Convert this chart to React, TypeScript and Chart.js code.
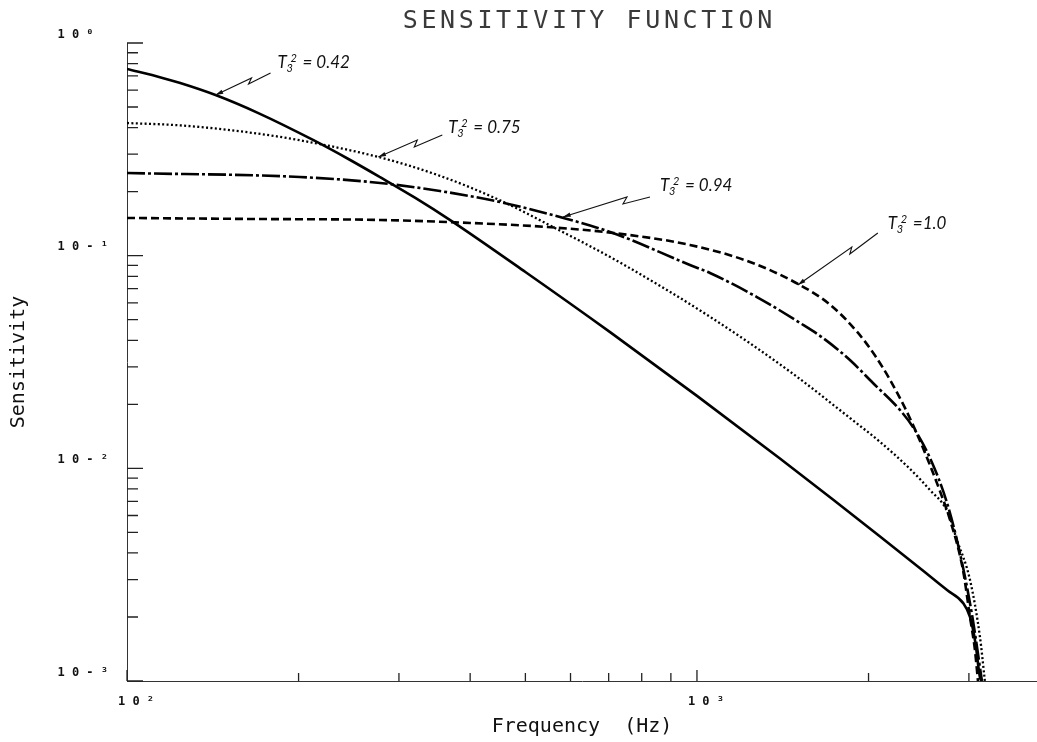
import React, { useEffect, useRef } from 'react';
import { Chart, registerables } from 'chart.js';

Chart.register(...registerables);

// ---- axis ranges ----
const FREQ_MIN = 100;
const FREQ_MAX = 3950;
const SENS_MIN = 0.001;
const SENS_MAX = 1;

// ---- tick labels (powers of ten) ----
const xTickValues = [100, 1000];
const xTickLabels = ['1 0 \u00B2', '1 0 \u00B3'];
const yTickValues = [1, 0.1, 0.01, 0.001];
const yTickLabels = ['1 0 \u2070  ', '1 0 - \u00B9', '1 0 - \u00B2', '1 0 - \u00B3'];

// ---- series: T3^2 = 0.42 (solid) ----
const freq042 = [100, 115, 124, 143, 170, 212, 245, 278, 320, 369, 500, 704, 1000, 1400, 1732, 2095, 2500, 2750, 2929, 3013, 3080, 3137, 3160];
const sens042 = [0.755, 0.687, 0.648, 0.569, 0.468, 0.35, 0.284, 0.234, 0.1875, 0.147, 0.0838, 0.0437, 0.02192, 0.01109, 0.00714, 0.00478, 0.00328, 0.00267, 0.00233, 0.002, 0.00151, 0.00104, 0.001];

// ---- series: T3^2 = 0.75 (dotted) ----
const freq075 = [100, 124, 164, 201, 276, 354, 451, 559, 733, 1054, 1456, 1855, 2095, 2364, 2563, 2746, 2858, 3013, 3137, 3200];
const sens075 = [0.4205, 0.4099, 0.3795, 0.3488, 0.2911, 0.2374, 0.1822, 0.1364, 0.0928, 0.0516, 0.02851, 0.01725, 0.01331, 0.00994, 0.00791, 0.0063, 0.00461, 0.00299, 0.00161, 0.001];

// ---- series: T3^2 = 0.94 (dash-dot) ----
const freq094 = [100, 201, 278, 354, 451, 575, 712, 972, 1054, 1274, 1516, 1664, 1855, 2036, 2270, 2393, 2563, 2746, 2893, 3038, 3162];
const sens094 = [0.2447, 0.2344, 0.2197, 0.2014, 0.1789, 0.152, 0.1279, 0.0904, 0.0829, 0.0639, 0.0483, 0.041, 0.0323, 0.0252, 0.01882, 0.01565, 0.01119, 0.00688, 0.004, 0.00205, 0.001];

// ---- series: T3^2 = 1.0 (dashed) ----
const freq100 = [100, 164, 278, 400, 546, 712, 972, 1239, 1516, 1711, 1909, 2053, 2181, 2316, 2442, 2563, 2669, 2780, 2929, 3013, 3074, 3112];
const sens100 = [0.1504, 0.1488, 0.1472, 0.1425, 0.1364, 0.1279, 0.1123, 0.0934, 0.0728, 0.0589, 0.0439, 0.0339, 0.0261, 0.01928, 0.01417, 0.01036, 0.00781, 0.00572, 0.00333, 0.002, 0.0014, 0.001];

// ---- annotations ----
const annotationTexts = ['= 0.42', '= 0.75', '= 0.94', '=1.0'];
const annotationTipFreq = [143, 276, 582, 1503];
const annotationTipSens = [0.57, 0.291, 0.152, 0.0728];

const TITLE = 'SENSITIVITY FUNCTION';
const X_TITLE = 'Frequency  (Hz)';
const Y_TITLE = 'Sensitivity';

// leader geometry (pixel offsets from the arrow tip): peak, drop, end, text anchor
const LEADER_OFFSETS = [
  [[36, -17], [33, -11], [55, -22], [62, -27]],
  [[39, -17], [36, -10], [64, -22], [70, -24]],
  [[64, -20], [60, -13], [87, -20], [97, -26]],
  [[54, -38], [52, -31], [80, -52], [90, -56]],
];

const zip = (xs: number[], ys: number[]) => xs.map((x, i) => ({ x, y: ys[i] }));

const isPow10 = (v: number) => Math.abs(Math.log10(v) - Math.round(Math.log10(v))) < 1e-9;

const decorPlugin = {
  id: 'decor',
  afterDraw(chart: any) {
    const { ctx, chartArea } = chart;
    const xs = chart.scales.x;
    const ys = chart.scales.y;
    ctx.save();

    // tick marks drawn inside the plot area
    ctx.strokeStyle = '#222';
    ctx.lineWidth = 1.3;
    ctx.beginPath();
    for (const t of xs.ticks) {
      const v = t.value;
      const e = Math.floor(Math.log10(v) + 1e-9);
      const s = v / Math.pow(10, e);
      if (Math.abs(s - Math.round(s)) > 1e-6) continue;
      const px = xs.getPixelForValue(v);
      const len = Math.round(s) === 1 ? 11 : 8;
      ctx.moveTo(px, chartArea.bottom);
      ctx.lineTo(px, chartArea.bottom - len);
    }
    for (const t of ys.ticks) {
      const v = t.value;
      const e = Math.floor(Math.log10(v) + 1e-9);
      const s = v / Math.pow(10, e);
      if (Math.abs(s - Math.round(s)) > 1e-6) continue;
      const py = ys.getPixelForValue(v);
      const len = Math.round(s) === 1 || Math.round(s) === 10 ? 16 : 11;
      ctx.moveTo(chartArea.left, py);
      ctx.lineTo(chartArea.left + len, py);
    }
    ctx.stroke();

    // title
    ctx.fillStyle = '#3a3a3a';
    ctx.font = "25px 'DejaVu Sans Mono'";
    (ctx as any).letterSpacing = '3.6px';
    ctx.textAlign = 'left';
    ctx.textBaseline = 'alphabetic';
    const w = ctx.measureText(TITLE).width - 3.6;
    const cx = (chartArea.left + chartArea.right) / 2 + 5.5;
    ctx.fillText(TITLE, cx - w / 2, 28);
    (ctx as any).letterSpacing = '0px';

    // annotations with zig-zag leaders
    ctx.strokeStyle = '#111';
    ctx.fillStyle = '#111';
    ctx.lineWidth = 1.1;
    annotationTexts.forEach((txt, i) => {
      const tx = xs.getPixelForValue(annotationTipFreq[i]);
      const ty = ys.getPixelForValue(annotationTipSens[i]);
      const o = LEADER_OFFSETS[i];
      ctx.beginPath();
      ctx.moveTo(tx, ty);
      ctx.lineTo(tx + o[0][0], ty + o[0][1]);
      ctx.lineTo(tx + o[1][0], ty + o[1][1]);
      ctx.lineTo(tx + o[2][0], ty + o[2][1]);
      ctx.stroke();
      // arrow head
      const ang = Math.atan2(o[0][1], o[0][0]);
      const L = 8;
      ctx.beginPath();
      ctx.moveTo(tx, ty);
      ctx.lineTo(tx + L * Math.cos(ang + 0.28), ty + L * Math.sin(ang + 0.28));
      ctx.lineTo(tx + L * Math.cos(ang - 0.28), ty + L * Math.sin(ang - 0.28));
      ctx.closePath();
      ctx.fill();
      // label
      const lx = tx + o[3][0];
      const ly = ty + o[3][1];
      ctx.font = "italic 17px Lato";
      ctx.fillText('T', lx, ly);
      ctx.font = "italic 11px Lato";
      ctx.fillText('3', lx + 9, ly + 4);
      ctx.fillText('2', lx + 13, ly - 6);
      ctx.font = "italic 17px Lato";
      ctx.fillText(txt, lx + 25, ly);
    });

    ctx.restore();
  },
};

export default function App() {
  const ref = useRef<HTMLCanvasElement>(null);

  useEffect(() => {
    if (!ref.current) return;
    const common = {
      pointRadius: 0,
      borderColor: '#000',
      fill: false,
      cubicInterpolationMode: 'monotone' as const,
      borderJoinStyle: 'round' as const,
    };
    const chart = new Chart(ref.current, {
      type: 'line',
      data: {
        datasets: [
          { ...common, label: 'T3^2 = 0.42', data: zip(freq042, sens042), borderWidth: 2.6 },
          { ...common, label: 'T3^2 = 0.75', data: zip(freq075, sens075), borderWidth: 2.3, borderDash: [2, 2.4] },
          { ...common, label: 'T3^2 = 0.94', data: zip(freq094, sens094), borderWidth: 2.6, borderDash: [18, 3, 3, 3] },
          { ...common, label: 'T3^2 = 1.0', data: zip(freq100, sens100), borderWidth: 2.6, borderDash: [8, 4] },
        ],
      },
      options: {
        responsive: false,
        animation: false,
        devicePixelRatio: 1,
        events: [],
        layout: { padding: { top: 43, left: 0, right: 0, bottom: 0 } },
        plugins: {
          legend: { display: false },
          tooltip: { enabled: false },
          title: { display: false },
        },
        scales: {
          x: {
            type: 'logarithmic',
            min: FREQ_MIN,
            max: FREQ_MAX,
            grid: { display: false, drawTicks: false },
            border: { display: true, color: '#333', width: 1 },
            ticks: {
              autoSkip: false,
              maxRotation: 0,
              minRotation: 0,
              padding: 14,
              labelOffset: 9,
              color: '#111',
              font: { family: "'DejaVu Sans Mono'", size: 12, weight: 'bold' },
              callback: (v: any) => {
                const i = xTickValues.findIndex((t) => Math.abs(t - Number(v)) < 1e-6 * t);
                return i >= 0 ? xTickLabels[i] : '';
              },
            },
            title: {
              display: true,
              text: X_TITLE,
              color: '#111',
              font: { family: "'DejaVu Sans Mono'", size: 20 },
              padding: { top: 0, bottom: 3 },
            },
            afterFit: (s: any) => {
              s.height = 61;
              s.paddingLeft = 0;
              s.paddingRight = 0;
            },
          },
          y: {
            type: 'logarithmic',
            min: SENS_MIN,
            max: SENS_MAX,
            grid: { display: false, drawTicks: false },
            border: { display: true, color: '#333', width: 1 },
            ticks: {
              autoSkip: false,
              padding: 19,
              labelOffset: -8.5,
              color: '#111',
              font: { family: "'DejaVu Sans Mono'", size: 12, weight: 'bold' },
              callback: (v: any) => {
                const n = Number(v);
                if (!isPow10(n)) return '';
                const i = yTickValues.findIndex((t) => Math.abs(t - n) < 1e-6 * t);
                return i >= 0 ? yTickLabels[i] : '';
              },
            },
            title: {
              display: true,
              text: Y_TITLE,
              color: '#111',
              font: { family: "'DejaVu Sans Mono'", size: 20 },
              padding: { top: 6.5, bottom: 0 },
            },
            afterFit: (s: any) => {
              s.width = 127;
              s.paddingTop = 0;
              s.paddingBottom = 0;
            },
          },
        },
      },
      plugins: [decorPlugin],
    } as any);
    return () => chart.destroy();
  }, []);

  return (
    <div style={{ position: 'fixed', left: 0, top: 0, width: 1037, height: 742, background: '#fff' }}>
      <canvas ref={ref} width={1037} height={742} style={{ display: 'block', width: 1037, height: 742 }} />
    </div>
  );
}
